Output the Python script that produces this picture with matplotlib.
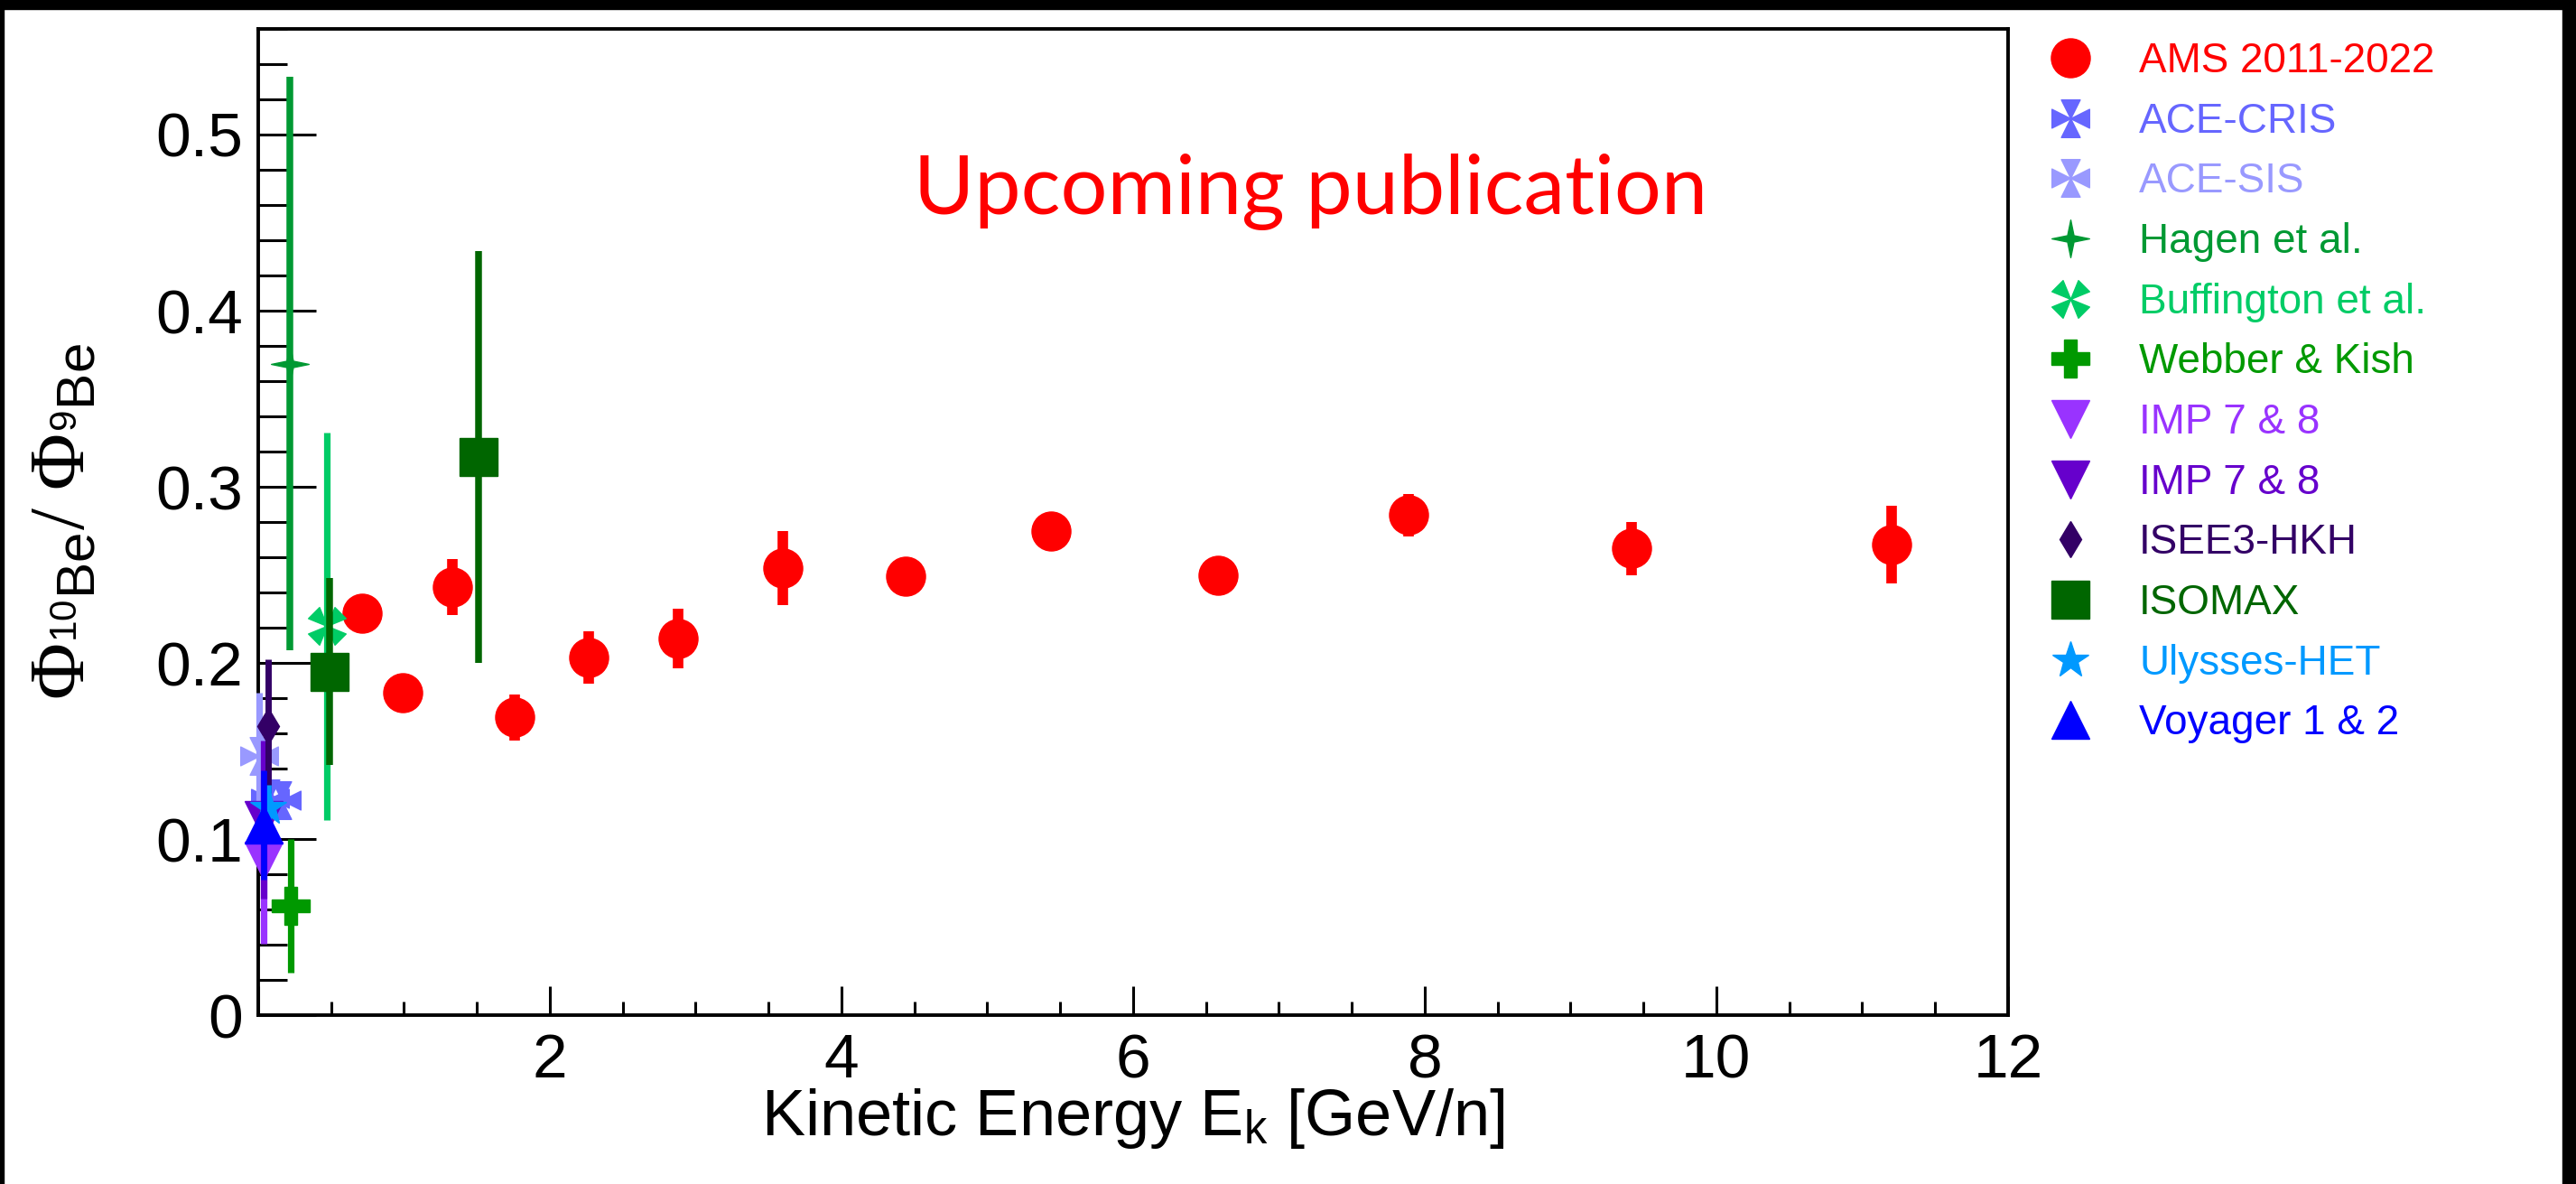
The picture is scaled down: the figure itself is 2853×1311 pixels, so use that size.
import numpy as np
import matplotlib
matplotlib.use('Agg')
import matplotlib.pyplot as plt
from matplotlib.path import Path
from matplotlib.lines import Line2D
from matplotlib.patches import Rectangle
from matplotlib.ticker import MultipleLocator, FuncFormatter

plt.rcParams['font.family'] = ['Liberation Sans', 'DejaVu Sans']
plt.rcParams['mathtext.fontset'] = 'custom'
plt.rcParams['mathtext.rm'] = 'Liberation Serif'
plt.rcParams['mathtext.sf'] = 'Liberation Sans'
plt.rcParams['mathtext.it'] = 'Liberation Serif:italic'
plt.rcParams['mathtext.bf'] = 'Liberation Serif:bold'

# ---- data: kinetic energy [GeV/n], 10Be/9Be ratio, error ----
ams_ek = [0.71, 0.99, 1.33, 1.76, 2.27, 2.88, 3.60, 4.44, 5.44, 6.58, 7.89, 9.42, 11.20]
ams_ratio = [0.228, 0.183, 0.243, 0.169, 0.203, 0.214, 0.254, 0.249, 0.275, 0.250,
             0.284, 0.265, 0.267]
ams_err = [0.006, 0.006, 0.016, 0.013, 0.015, 0.017, 0.021, 0.006, 0.006, 0.006,
           0.012, 0.015, 0.022]

acecris_ek = [0.08, 0.16]
acecris_ratio = [0.123, 0.122]
acecris_err = [0.008, 0.008]

acesis_ek = [0.01]
acesis_ratio = [0.147]
acesis_err = [0.036]

hagen_ek = [0.22]
hagen_ratio = [0.370]
hagen_err = [0.163]

buffington_ek = [0.47]
buffington_ratio = [0.221]
buffington_err = [0.110]

webber_ek = [0.225]
webber_ratio = [0.062]
webber_err = [0.038]

imp1_ek = [0.04]
imp1_ratio = [0.0875]
imp1_err = [0.047]

imp2_ek = [0.04]
imp2_ratio = [0.111]
imp2_err = [0.045]

isee3_ek = [0.07]
isee3_ratio = [0.164]
isee3_err = [0.038]

isomax_ek = [0.49, 1.51]
isomax_ratio = [0.195, 0.317]
isomax_err = [0.053, 0.117]

ulysses_ek = [0.07]
ulysses_ratio = [0.118]
ulysses_err = [0.013]

voyager_ek = [0.04]
voyager_ratio = [0.108]
voyager_err = [0.031]


def wedge_cross(angle, half_width):
    """Four triangles with their tips at the centre (ROOT-like cross)."""
    verts, codes = [], []
    for k in range(4):
        a = np.deg2rad(angle + 90 * k)
        d = np.array([np.cos(a), np.sin(a)])
        n = np.array([-d[1], d[0]])
        p1 = d + half_width * n
        p2 = d - half_width * n
        verts += [(0, 0), tuple(p1), tuple(p2), (0, 0)]
        codes += [Path.MOVETO, Path.LINETO, Path.LINETO, Path.CLOSEPOLY]
    return Path(verts, codes)


def four_star(inner):
    pts = []
    for k in range(8):
        a = np.deg2rad(90 + 45 * k)
        r = 1.0 if k % 2 == 0 else inner
        pts.append((r * np.cos(a), r * np.sin(a)))
    pts.append(pts[0])
    return Path(pts, [Path.MOVETO] + [Path.LINETO] * 7 + [Path.CLOSEPOLY])


ace_marker = wedge_cross(90, 0.5)
buff_marker = wedge_cross(45, 0.42)
hagen_marker = four_star(0.24)

series = [
    ('AMS 2011-2022', ams_ek, ams_ratio, ams_err, '#ff0000', 'o', 31, 8.4),
    ('ACE-CRIS', acecris_ek, acecris_ratio, acecris_err, '#6666ff', ace_marker, 30, 5.2),
    ('ACE-SIS', acesis_ek, acesis_ratio, acesis_err, '#9999ff', ace_marker, 30, 5.2),
    ('Hagen et al.', hagen_ek, hagen_ratio, hagen_err, '#009933', hagen_marker, 30, 5.4),
    ('Buffington et al.', buffington_ek, buffington_ratio, buffington_err, '#00cc66',
     buff_marker, 30, 5.2),
    ('Webber & Kish', webber_ek, webber_ratio, webber_err, '#009900', 'P', 30, 5.2),
    ('IMP 7 & 8', imp1_ek, imp1_ratio, imp1_err, '#9933ff', 'v', 30, 5.2),
    ('IMP 7 & 8', imp2_ek, imp2_ratio, imp2_err, '#6600cc', 'v', 30, 5.2),
    ('ISEE3-HKH', isee3_ek, isee3_ratio, isee3_err, '#330066', 'd', 20, 5.0),
    ('ISOMAX', isomax_ek, isomax_ratio, isomax_err, '#006600', 's', 30, 5.4),
    ('Ulysses-HET', ulysses_ek, ulysses_ratio, ulysses_err, '#0099ff', '*', 30, 4.8),
    ('Voyager 1 & 2', voyager_ek, voyager_ratio, voyager_err, '#0000ff', '^', 30, 4.8),
]

fig = plt.figure(figsize=(28.53, 13.11), dpi=100)
ax = fig.add_axes([0.1002, 0.1426, 0.6793, 0.8330])

handles, labels = [], []
for i, (label, x, y, e, c, m, ms, elw) in enumerate(series):
    cont = ax.errorbar(x, y, yerr=e, marker=m, linestyle='none', color=c, mfc=c,
                       mec=c, ms=ms, elinewidth=elw, capsize=0, zorder=3 + i * 0.1)
    for art in cont.get_children():
        art.set_clip_on(False)
    handles.append(Line2D([], [], marker=m, linestyle='none', color=c, mfc=c,
                          mec=c, ms=ms))
    labels.append(label)

ax.set_xlim(0, 12)
ax.set_ylim(0, 0.56)

ax.xaxis.set_major_locator(MultipleLocator(2))
ax.xaxis.set_minor_locator(MultipleLocator(0.5))
ax.yaxis.set_major_locator(MultipleLocator(0.1))
ax.yaxis.set_minor_locator(MultipleLocator(0.02))
ax.xaxis.set_major_formatter(FuncFormatter(lambda v, p: '' if v == 0 else '{:g}'.format(v)))
ax.yaxis.set_major_formatter(FuncFormatter(lambda v, p: '0' if abs(v) < 1e-9 else '{:.1f}'.format(v)))

ax.tick_params(axis='both', which='both', direction='in', top=False, right=False,
               width=2.2, labelsize=50)
ax.tick_params(axis='y', which='major', length=46, pad=12)
ax.tick_params(axis='y', which='minor', length=23)
ax.tick_params(axis='x', which='major', length=23, pad=14)
ax.tick_params(axis='x', which='minor', length=11)
for sp in ax.spines.values():
    sp.set_linewidth(2.8)

ax.set_xlabel(r'Kinetic Energy E$_{\mathsf{k}}$ [GeV/n]', fontsize=52)
ax.xaxis.set_label_coords(0.5, -0.072)
ax.set_ylabel(r'$\Phi_{{}^{\mathsf{10}}\mathsf{Be}}/\ \Phi_{{}^{\mathsf{9}}\mathsf{Be}}$',
              fontsize=62)
ax.yaxis.set_label_coords(-0.090, 0.50)

ax.text(0.6017, 0.812, 'Upcoming publication', transform=ax.transAxes, ha='center',
        va='baseline', color='#ff0000', fontsize=66, family='Lato')

leg = fig.legend(handles, labels, loc='upper left', bbox_to_anchor=(0.7957, 0.965),
                 frameon=False, fontsize=33, handlelength=1.0, handletextpad=1.16,
                 labelspacing=0.495, borderpad=0, borderaxespad=0)
for txt, s in zip(leg.get_texts(), series):
    txt.set_color(s[4])

# black screenshot border
for rect in [(0, 1 - 10 / 1311, 1, 10 / 1311), (0, 0, 4 / 2853, 1),
             (2838 / 2853, 0, 15 / 2853, 1)]:
    fig.add_artist(Rectangle(rect[:2], rect[2], rect[3], transform=fig.transFigure,
                             color='black', zorder=10))

plt.savefig('out.png', dpi=100)
